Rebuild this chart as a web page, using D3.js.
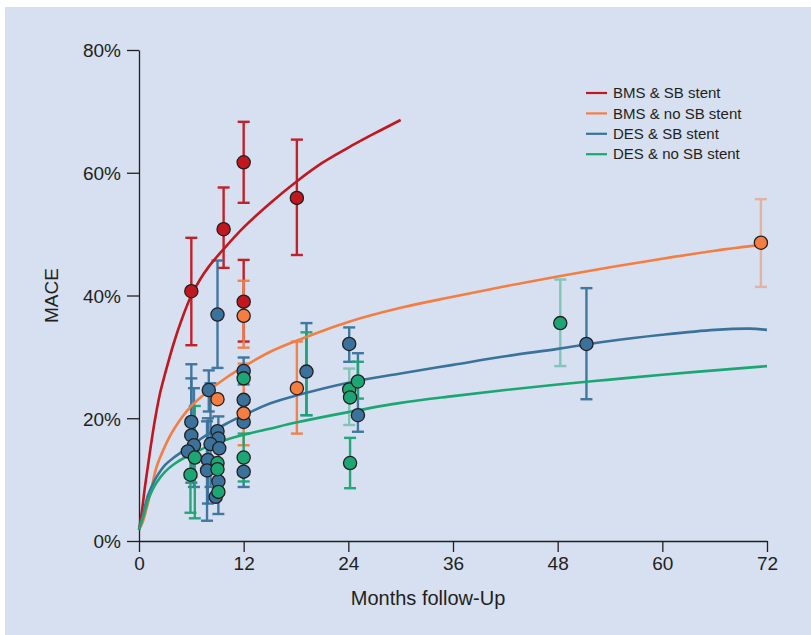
<!DOCTYPE html>
<html>
<head>
<meta charset="utf-8">
<script src="https://cdn.jsdelivr.net/npm/d3@7"></script>
<style>
  body { margin: 0; background: #fff; }
  text { font-family: "Liberation Sans", sans-serif; fill: #231f20; }
</style>
</head>
<body>
<script>
var svgWidth = 811;
var svgHeight = 635;

// series names + colours
var seriesNames = ["BMS & SB stent", "BMS & no SB stent", "DES & SB stent", "DES & no SB stent"];
var seriesColors = ["#c1171f", "#f47d42", "#3b729b", "#1ca673"];

var xTicks = [0, 12, 24, 36, 48, 60, 72];
var yTicks = [0, 20, 40, 60, 80];

// fitted curves: [month, MACE %]
var curveBmsSb = [[0, 1.8], [0.3, 4.5], [0.7, 9], [1.2, 14], [1.8, 19.5], [2.4, 24], [3, 27.3], [4, 32.3],
  [5, 36.5], [6, 40], [7, 42.6], [8, 44.7], [9.6, 47.4], [12, 51.1], [15, 55], [18, 58.5],
  [21, 61.6], [24, 64.1], [27, 66.4], [30, 68.6]];
var curveBmsNoSb = [[0, 1.8], [0.4, 3], [0.9, 5.5], [1.5, 9], [2, 12], [3, 15.5], [4, 18.2], [6, 22],
  [8, 24.5], [10, 26.6], [12, 28.4], [15, 30.8], [18, 32.6], [24, 35.7], [30, 38], [36, 39.8],
  [42, 41.5], [48, 43.1], [54, 44.6], [60, 46], [66, 47.3], [72, 48.4]];
var curveDesSb = [[0, 1.8], [0.5, 4.5], [1, 7.3], [1.5, 9], [2, 10.4], [3, 12.4], [4, 13.6], [5, 14.6],
  [6, 15.6], [8, 17.5], [10, 19.1], [12, 20.5], [15, 22.4], [18, 23.7], [24, 25.8], [30, 27.3],
  [36, 28.7], [42, 30.1], [48, 31.3], [54, 32.6], [60, 33.6], [66, 34.4], [70, 34.6], [72, 34.4]];
var curveDesNoSb = [[0, 1.8], [0.5, 4], [1, 6.5], [1.5, 8.2], [2, 9.5], [3, 11.3], [4, 12.5], [5, 13.4],
  [6, 14.1], [8, 15.5], [10, 16.5], [12, 17.3], [15, 18.3], [18, 19.3], [24, 21], [30, 22.5],
  [36, 23.6], [42, 24.6], [48, 25.5], [54, 26.3], [60, 27.1], [66, 27.8], [72, 28.5]];

// study points: [month, MACE %, lower, upper]  (null = not shown)
var ptsBmsSb = [[6.0, 40.7, 31.9, 49.4], [9.7, 50.8, 44.5, 57.6], [12.0, 61.7, 55.1, 68.3],
  [18.1, 55.9, 46.6, 65.4], [12.0, 39.0, 32.5, 45.8]];
var ptsBmsNoSb = [[12.0, 36.7, 31.5, 42.4], [9.0, 23.1, null, null], [12.0, 20.8, 15.6, 28.9],
  [18.1, 24.9, 17.5, 32.5], [71.3, 48.6, 41.4, 55.7]];
var ptsDesSb = [[9.0, 36.9, 28.2, 45.7], [6.0, 19.4, 10.5, 28.8], [6.0, 17.2, 9.5, 26.5],
  [6.3, 15.6, 8.8, 24.9], [5.6, 14.6, null, null], [8.0, 24.6, 21.1, 27.8],
  [9.0, 17.9, null, null], [9.1, 16.7, 4.4, 20.3], [8.2, 15.8, 8.8, 25.7], [9.2, 15.1, null, null],
  [7.9, 13.2, 6.1, 20.0], [7.8, 11.5, 3.3, 19.5], [9.1, 9.7, null, null], [8.8, 7.2, null, null],
  [12.0, 27.7, 25.5, 29.9], [12.0, 23.0, null, null], [12.0, 19.4, null, null], [12.0, 11.3, 8.8, 13.8],
  [19.2, 27.6, 20.5, 35.5], [24.1, 32.1, 29.2, 34.8], [25.1, 20.5, 17.8, 30.6], [51.3, 32.1, 23.1, 41.2]];
var ptsDesNoSb = [[6.4, 13.6, 3.7, 22.0], [5.9, 10.8, 4.6, 17.0], [9.0, 12.7, null, null],
  [9.0, 11.7, null, null], [9.1, 8.0, null, null], [12.0, 26.5, null, null], [12.0, 13.6, 9.7, 17.5],
  [19.2, null, 20.5, 34.0], [24.1, 24.7, 18.9, 28.1], [24.2, 23.4, null, null], [25.1, 26.0, 23.2, 29.2],
  [24.2, 12.7, 8.6, 16.8], [48.3, 35.5, 28.5, 42.6]];

var curves = [curveBmsSb, curveBmsNoSb, curveDesSb, curveDesNoSb];
var points = [ptsBmsSb, ptsBmsNoSb, ptsDesSb, ptsDesNoSb];
// bars drawn paler in the original: [series, point index]
var fadedBars = [[1, 4], [3, 8], [3, 12]];

var margin = { top: 50, right: 44, bottom: 94, left: 139 };
var width = svgWidth - margin.left - margin.right;
var height = svgHeight - margin.top - margin.bottom;

var svg = d3.select("body")
  .append("svg")
  .attr("width", svgWidth)
  .attr("height", svgHeight);

// light blue panel
svg.append("rect")
  .attr("x", 5)
  .attr("y", 7)
  .attr("width", svgWidth - 5)
  .attr("height", svgHeight - 7)
  .attr("fill", "#d6e0f0");

var chartGroup = svg.append("g")
  .attr("transform", `translate(${margin.left}, ${margin.top})`);

var x = d3.scaleLinear().domain([0, 72]).range([0, width]);
var y = d3.scaleLinear().domain([0, 80]).range([height, 0]);

// axes
var bottomAxis = d3.axisBottom(x).tickValues(xTicks).tickSizeInner(11).tickSizeOuter(0).tickPadding(5);
var leftAxis = d3.axisLeft(y).tickValues(yTicks).tickSizeInner(12).tickSizeOuter(0).tickPadding(6)
  .tickFormat(d => d + "%");

var xg = chartGroup.append("g")
  .attr("transform", `translate(0, ${height})`)
  .call(bottomAxis);
var yg = chartGroup.append("g")
  .call(leftAxis);

[xg, yg].forEach(function(g) {
  g.select(".domain").attr("stroke", "#231f20").attr("stroke-width", 1.3);
  g.selectAll(".tick line").attr("stroke", "#231f20").attr("stroke-width", 1.3);
  g.selectAll(".tick text").style("font-size", "19px").attr("fill", "#231f20")
    .style("font-family", "'Liberation Sans', sans-serif");
});
yg.selectAll(".tick text").attr("dy", "0.36em");

// error bars
var capHalf = 6;
points.forEach(function(pts, si) {
  pts.forEach(function(p, pi) {
    if (p[2] === null) return;
    var faded = fadedBars.some(f => f[0] === si && f[1] === pi);
    var g = chartGroup.append("g")
      .attr("stroke", seriesColors[si])
      .attr("stroke-width", 2.4)
      .attr("opacity", faded ? 0.45 : 0.95);
    g.append("line")
      .attr("x1", x(p[0])).attr("x2", x(p[0]))
      .attr("y1", y(p[2])).attr("y2", y(p[3]));
    [p[2], p[3]].forEach(function(v) {
      g.append("line")
        .attr("x1", x(p[0]) - capHalf).attr("x2", x(p[0]) + capHalf)
        .attr("y1", y(v)).attr("y2", y(v));
    });
  });
});

// fitted curves
var line = d3.line()
  .x(d => x(d[0]))
  .y(d => y(d[1]))
  .curve(d3.curveCatmullRom.alpha(0.5));

curves.forEach(function(c, si) {
  chartGroup.append("path")
    .datum(c)
    .attr("d", line)
    .attr("fill", "none")
    .attr("stroke", seriesColors[si])
    .attr("stroke-width", 2.6);
});

// points: blue, green, red, orange
[2, 3, 0, 1].forEach(function(si) {
  chartGroup.selectAll(null)
    .data(points[si].filter(p => p[1] !== null))
    .enter()
    .append("circle")
    .attr("cx", d => x(d[0]))
    .attr("cy", d => y(d[1]))
    .attr("r", 6.6)
    .attr("fill", seriesColors[si])
    .attr("stroke", "#231f20")
    .attr("stroke-width", 1.3);
});

// legend
var legend = svg.append("g").attr("transform", "translate(586, 93)");
seriesNames.forEach(function(name, i) {
  var row = legend.append("g").attr("transform", `translate(0, ${i * 20.4})`);
  row.append("line")
    .attr("x1", 0).attr("x2", 21)
    .attr("stroke", seriesColors[i])
    .attr("stroke-width", 2.2);
  row.append("text")
    .attr("x", 27)
    .attr("dy", "0.35em")
    .style("font-size", "15px")
    .text(name);
});

// axis labels
chartGroup.append("text")
  .attr("transform", "rotate(-90)")
  .attr("x", 0 - (y(40)))
  .attr("y", 0 - margin.left + 58)
  .attr("text-anchor", "middle")
  .style("font-size", "19px")
  .text("MACE");

chartGroup.append("text")
  .attr("transform", `translate(${x(36) - 25}, ${height + 64})`)
  .attr("text-anchor", "middle")
  .style("font-size", "20px")
  .text("Months follow-Up");
</script>
</body>
</html>
